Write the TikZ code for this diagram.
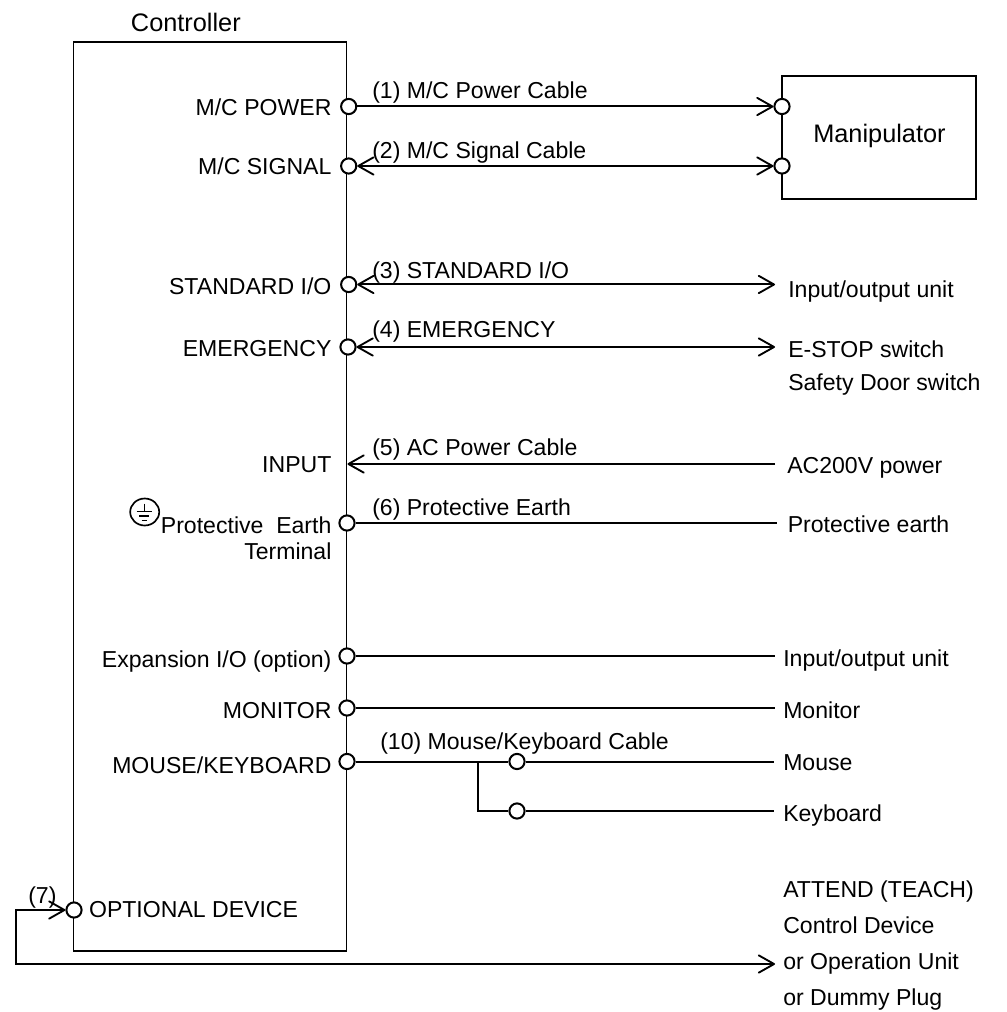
\documentclass[tikz,border=0pt]{standalone}
\usepackage{fontspec}
\setmainfont{Liberation Sans}
\usetikzlibrary{arrows.meta}
\tikzset{
  px/.style={x=0.75pt,y=-0.75pt},
  boxed/.style={draw=black,line width=1.05pt,rectangle,inner sep=0pt,fill=white},
  port/.style={draw=black,line width=1.5pt,circle,fill=white,inner sep=0pt,minimum size=11.4pt},
  wire/.style={draw=black,line width=1.5pt},
  earthline/.style={draw=black,line width=1.25pt},
  barb/.tip={Straight Barb[length=11.5pt,width=13pt,line width=1.4pt,round]},
  lbl/.style={font=\fontsize{17.3pt}{20pt}\selectfont,inner sep=0pt,text=black},
  lblL/.style={lbl,anchor=base east},
  lblR/.style={lbl,anchor=base west},
  big/.style={font=\fontsize{19pt}{22pt}\selectfont,inner sep=0pt,anchor=base west,text=black},
}
\begin{document}
\begin{tikzpicture}[px]
\useasboundingbox (0,0) rectangle (1006,1012);
% boxes
\node[boxed,minimum width=204.75pt,minimum height=681.75pt] (ctrl) at (210,496.5) {};
\node[boxed,minimum width=145.5pt,minimum height=92.25pt] (manip) at (879,137.5) {};
\node[big] (tctrl) at (130.7,31.7) {Controller};
\node[big] (tmanip) at (813,142.7) {Manipulator};
% ports
\node[port] (p1) at (348.7,106.5) {};
\node[port] (p2) at (348.7,166) {};
\node[port] (p3) at (348.7,284.5) {};
\node[port] (p4) at (348,347) {};
\coordinate (p5) at (347.5,464);
\node[port] (p6) at (347,523) {};
\node[port] (p8) at (347,656) {};
\node[port] (p9) at (347,708) {};
\node[port] (p10) at (347,761.5) {};
\node[port] (p7) at (74,910) {};
\node[port] (m1) at (782,106.5) {};
\node[port] (m2) at (782,166) {};
\node[port] (cm) at (517,761.5) {};
\node[port] (ck) at (517,811) {};
% free ends
\coordinate (e3) at (775,284.5);
\coordinate (e4) at (775,347);
\coordinate (e5) at (775,464);
\coordinate (e6) at (776.5,523);
\coordinate (e8) at (775,656);
\coordinate (e9) at (775,708);
\coordinate (em) at (774,761.5);
\coordinate (ek) at (774,811);
\coordinate (ej) at (478,761.5);
\coordinate (ej2) at (478,811);
\coordinate (l1) at (15.5,910);
\coordinate (l2) at (15.5,964);
\coordinate (e7) at (775,964);
% connectors
\draw[wire,-{barb}] (p1) -- (m1);
\draw[wire,{barb}-{barb}] (p2) -- (m2);
\draw[wire,{barb}-{barb}] (p3) -- (e3);
\draw[wire,{barb}-{barb}] (p4) -- (e4);
\draw[wire,-{barb}] (e5) -- (p5);
\draw[wire] (p6) -- (e6);
\draw[wire] (p8) -- (e8);
\draw[wire] (p9) -- (e9);
\draw[wire] (p10) -- (cm);
\draw[wire] (cm) -- (em);
\draw[wire] (ej) -- (ej2) -- (ck);
\draw[wire] (ck) -- (ek);
\draw[wire,{barb}-{barb}] (p7) -- (l1) -- (l2) -- (e7);
% controller labels
\node[lblL] (a1) at (331.7,116) {M/C POWER};
\node[lblL] (a2) at (331.7,175) {M/C SIGNAL};
\node[lblL] (a3) at (331.7,294) {STANDARD I/O};
\node[lblL] (a4) at (331.7,356) {EMERGENCY};
\node[lblL] (a5) at (331.7,472.7) {INPUT};
\node[lblL] (a6) at (331.7,533) {Protective\ \ Earth};
\node[lblL] (a6b) at (331.7,559) {Terminal};
\node[lblL] (a8) at (331.7,667) {Expansion I/O (option)};
\node[lblL] (a9) at (331.7,718) {MONITOR};
\node[lblL] (a10) at (331.7,773) {MOUSE/KEYBOARD};
\node[lblR] (a7) at (88.8,917) {OPTIONAL DEVICE};
% cable labels
\node[lblR] (c1) at (372,99) {(1) M/C Power Cable};
\node[lblR] (c2) at (372,159) {(2) M/C Signal Cable};
\node[lblR] (c3) at (372,278) {(3) STANDARD I/O};
\node[lblR] (c4) at (372,337) {(4) EMERGENCY};
\node[lblR] (c5) at (372,455) {(5) AC Power Cable};
\node[lblR] (c6) at (372,515) {(6) Protective Earth};
\node[lblR] (c10) at (380,749) {(10) Mouse/Keyboard Cable};
\node[lblR] (c7) at (28,903) {(7)};
% right labels
\node[lblR] (r3) at (788,297) {Input/output unit};
\node[lblR] (r4) at (788,357.7) {E-STOP switch};
\node[lblR] (r4b) at (788,390) {Safety Door switch};
\node[lblR] (r5) at (787,473) {AC200V power};
\node[lblR] (r6) at (787.5,532.7) {Protective earth};
\node[lblR] (r8) at (783,666.7) {Input/output unit};
\node[lblR] (r9) at (783,718) {Monitor};
\node[lblR] (rm) at (783,770.7) {Mouse};
\node[lblR] (rk) at (783,821.7) {Keyboard};
\node[lblR] (r7a) at (783,897.7) {ATTEND (TEACH)};
\node[lblR] (r7b) at (783,933) {Control Device};
\node[lblR] (r7c) at (783,969) {or Operation Unit};
\node[lblR] (r7d) at (783,1005.7) {or Dummy Plug};
% earth symbol
\draw[earthline] (144.7,512) ellipse [x radius=14.5,y radius=13.5];
\draw[earthline] (144.5,503.5) -- (144.5,511.5);
\draw[earthline] (136.7,511.5) -- (151.7,511.5);
\draw[earthline] (139.3,516) -- (149.3,516);
\draw[earthline] (141.7,520.5) -- (147,520.5);
\end{tikzpicture}
\end{document}
